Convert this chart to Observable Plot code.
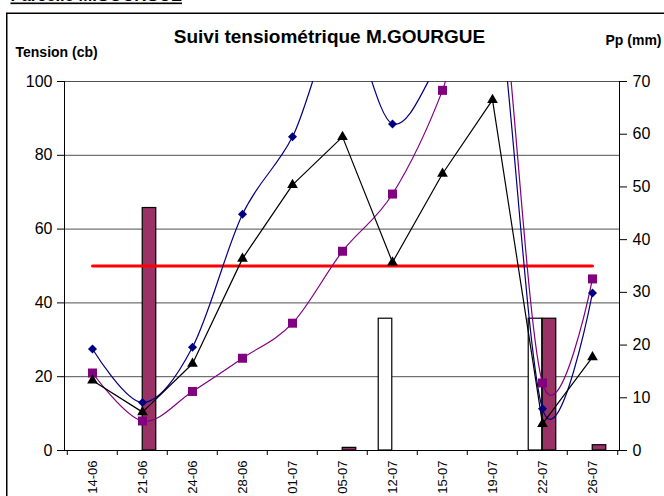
<!DOCTYPE html>
<html><head><meta charset="utf-8">
<script src="https://cdn.jsdelivr.net/npm/d3@7"></script>
<script src="https://cdn.jsdelivr.net/npm/@observablehq/plot@0.6"></script>
<style>
body{margin:0;background:#fff;overflow:hidden;}
#wrap{position:relative;width:664px;height:496px;overflow:hidden;}
</style></head><body><div id="wrap"></div>
<script>
const dates = ["14-06","21-06","24-06","28-06","01-07","05-07","12-07","15-07","19-07","22-07","26-07"];
const tensionBlue   = [27.5, 13, 28, 64, 85, 117, 88.5, 107, 130, 11.3, 42.7];
const tensionPurple = [21, 8, 16, 25, 34.5, 54, 69.5, 97.6, 140, 18.3, 46.5];
const tensionBlack  = [19, 10.4, 23.5, 52, 72, 85, 51, 75, 95, 7.2, 25.3];
const seuil         = [50, 50, 50, 50, 50, 50, 50, 50, 50, 50, 50];
const pluie         = [0, 0, 0, 0, 0, 0, 25, 0, 0, 25, 0];
const irrigation    = [0, 46, 0, 0, 0, 0.5, 0, 0, 0, 25, 1];
const leftTicks  = [0, 20, 40, 60, 80, 100];
const rightTicks = [0, 10, 20, 30, 40, 50, 60, 70];
const mainTitle = "Suivi tensiométrique M.GOURGUE";
const topTitle = "Parcelle M.GOURGUE";
const yLeftTitle = "Tension (cb)";
const yRightTitle = "Pp (mm)";

const rows = dates.map((d, i) => ({date: d, blue: tensionBlue[i], purple: tensionPurple[i], black: tensionBlack[i], seuil: seuil[i], pluie: pluie[i], irrigation: irrigation[i]}));
const ppMax = 70, tMax = 100;
const toLeft = v => v * tMax / ppMax;

const W = 664, H = 496, mL = 64, mR = 45, mT = 81, mB = 46;
const bw = (W - mL - mR) / dates.length;
const barW = 14;
const font = "'Liberation Sans', Arial, sans-serif";

const chart = Plot.plot({
  width: W, height: H, marginLeft: mL, marginRight: mR, marginTop: mT, marginBottom: mB,
  style: {fontFamily: font, color: "#000", background: "white"},
  x: {type: "band", domain: dates, padding: 0},
  y: {domain: [0, tMax]},
  marks: [
    Plot.ruleY([20, 40, 60, 80, 100], {stroke: "#505050", strokeWidth: 1}),
    Plot.barY(rows.filter(d => d.pluie > 0), {x: "date", y: d => toLeft(d.pluie), fill: "white", stroke: "black", strokeWidth: 1.2, insetLeft: bw / 2 - barW, insetRight: bw / 2}),
    Plot.barY(rows.filter(d => d.irrigation > 0), {x: "date", y: d => toLeft(d.irrigation), fill: "#993366", stroke: "black", strokeWidth: 1.2, insetLeft: bw / 2, insetRight: bw / 2 - barW}),
    Plot.line(rows, {x: "date", y: "seuil", stroke: "#ff0000", strokeWidth: 3}),
    Plot.line(rows, {x: "date", y: "blue", curve: "cardinal", stroke: "#000080", strokeWidth: 1.2, clip: true}),
    Plot.line(rows, {x: "date", y: "purple", curve: "cardinal", stroke: "#800080", strokeWidth: 1.2, clip: true}),
    Plot.line(rows, {x: "date", y: "black", stroke: "#000", strokeWidth: 1.2, clip: true}),
    Plot.dot(rows, {x: "date", y: "blue", symbol: "diamond2", r: 4.05, fill: "#000080", stroke: "none", clip: true}),
    Plot.dot(rows, {x: "date", y: "purple", symbol: "square", r: 5.08, fill: "#800080", stroke: "none", clip: true}),
    Plot.dot(rows, {x: "date", y: "black", symbol: "triangle", r: 3.97, fill: "#000", stroke: "none", clip: true}),
    Plot.frame({anchor: "left", stroke: "#000"}),
    Plot.frame({anchor: "right", stroke: "#000"}),
    Plot.frame({anchor: "bottom", stroke: "#000"}),
    Plot.axisY({ticks: leftTicks, tickSize: 7, tickPadding: 5, fontSize: 16, label: null, tickFormat: d => String(d)}),
    Plot.axisY({anchor: "right", ticks: rightTicks.map(toLeft), tickFormat: v => String(Math.round(v * ppMax / tMax)), tickSize: 7, tickPadding: 6, fontSize: 16, label: null}),
    Plot.axisX({ticks: dates, tickSize: 5, tickFormat: () => "", dx: -bw / 2, label: null}),
    Plot.axisX({ticks: [dates[dates.length - 1]], tickSize: 5, tickFormat: () => "", dx: bw / 2, label: null}),
    Plot.axisX({ticks: dates, tickSize: 0, tickPadding: 10, tickRotate: -90, fontSize: 13, label: null}),
    Plot.text([mainTitle], {frameAnchor: "top-left", lineAnchor: "middle", dx: 329 - mL, dy: 36 - mT, textAnchor: "middle", fontSize: 19, fontWeight: "bold"}),
    Plot.text([yLeftTitle], {frameAnchor: "top-left", lineAnchor: "middle", dx: 15 - mL, dy: 52 - mT, textAnchor: "start", fontSize: 14, fontWeight: "bold"}),
    Plot.text([yRightTitle], {frameAnchor: "top-right", lineAnchor: "middle", dx: -14, dy: 40.5 - mT, textAnchor: "start", fontSize: 14, fontWeight: "bold"}),
    Plot.text([topTitle], {frameAnchor: "top-left", lineAnchor: "middle", dx: 10 - mL, dy: -4.3 - mT, textAnchor: "start", fontSize: 16.5, fontWeight: "bold"})
  ]
});
d3.select(chart).selectAll("text").filter(function() { return this.textContent === topTitle; }).style("text-decoration", "underline");
// chart-area border (decoration, extends beyond the visible window like in the reference)
d3.select(chart).append("rect")
  .attr("x", 6.75).attr("y", 13.25).attr("width", 900).attr("height", 900)
  .attr("fill", "none").attr("stroke", "#000").attr("stroke-width", 1.5);
document.getElementById("wrap").appendChild(chart);
</script></body></html>
